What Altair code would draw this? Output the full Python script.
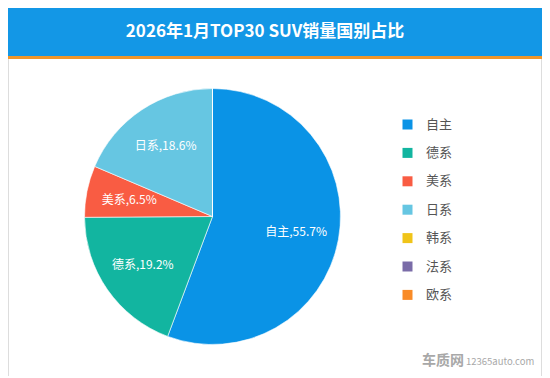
import altair as alt
import pandas as pd

title_text = "2026年1月TOP30 SUV销量国别占比"
categories = ["自主", "德系", "美系", "日系", "韩系", "法系", "欧系"]
shares = [55.7, 19.2, 6.5, 18.6, 0, 0, 0]
colors = ["#0a93e6", "#12b5a0", "#f95c43", "#66c6e2", "#f0c419", "#7a6ca8", "#f98b27"]

FONT = "Noto Sans CJK SC"
W, H = 534, 368
CX, CY, R = 204.5, 208.5, 128

df = pd.DataFrame({
    "cat": categories,
    "share": shares,
    "order": list(range(len(categories))),
})
df["label"] = [f"{c},{v}%" for c, v in zip(categories, shares)]

color_scale = alt.Scale(domain=categories, range=colors)

base = alt.Chart(df).encode(
    theta=alt.Theta("share:Q", stack=True),
    order=alt.Order("order:Q"),
)

pie = base.mark_arc(stroke="#ffffff", strokeWidth=0.6).encode(
    x=alt.value(CX), y=alt.value(CY),
    radius=alt.value(R),
    color=alt.Color("cat:N", scale=color_scale, sort=categories,
                    legend=alt.Legend(title=None, orient="none", legendX=393, legendY=110,
                                      symbolType="square", symbolSize=100,
                                      symbolStrokeWidth=0,
                                      labelFont=FONT, labelFontSize=13, labelColor="#555555",
                                      rowPadding=14.4, labelOffset=12, padding=0)),
)

labels = base.transform_filter("datum.share > 0").mark_text(
    font=FONT, fontSize=12, color="#ffffff", radius=85,
).encode(
    x=alt.value(CX), y=alt.value(CY),
    text="label:N",
)

banner_df = pd.DataFrame({"t": [title_text]})
banner = alt.Chart(banner_df).mark_rect(color="#1397e6").encode(
    x=alt.value(0), x2=alt.value(W), y=alt.value(0), y2=alt.value(48)
)
stripe = alt.Chart(banner_df).mark_rect(color="#f0962a").encode(
    x=alt.value(0), x2=alt.value(W), y=alt.value(48), y2=alt.value(51)
)
border = alt.Chart(banner_df).mark_rect(fill=None, stroke="#dddddd", strokeWidth=1).encode(
    x=alt.value(0.5), x2=alt.value(W - 0.5), y=alt.value(48), y2=alt.value(H + 10)
)
title = alt.Chart(banner_df).mark_text(
    font=FONT, fontSize=17, fontWeight="bold", color="#ffffff", baseline="middle"
).encode(x=alt.value(257), y=alt.value(24), text="t:N")

wm_df = pd.DataFrame({"a": ["车质网"], "b": ["12365auto.com"]})
wm1 = alt.Chart(wm_df).mark_text(font=FONT, fontSize=14, fontWeight="bold", color="#a8a8a8",
                                 align="right", baseline="middle").encode(
    x=alt.value(456), y=alt.value(353), text="a:N")
wm2 = alt.Chart(wm_df).mark_text(font=FONT, fontSize=9.5, color="#a8a8a8",
                                 align="left", baseline="middle").encode(
    x=alt.value(458), y=alt.value(354), text="b:N")

chart = alt.layer(border, banner, stripe, title, pie, labels, wm1, wm2).properties(
    width=W, height=H,
    autosize=alt.AutoSizeParams(type="none"),
    padding=0,
).configure_view(stroke=None).resolve_scale(color="independent")

chart.save("out.html", embed_options={"renderer": "svg", "actions": False})
